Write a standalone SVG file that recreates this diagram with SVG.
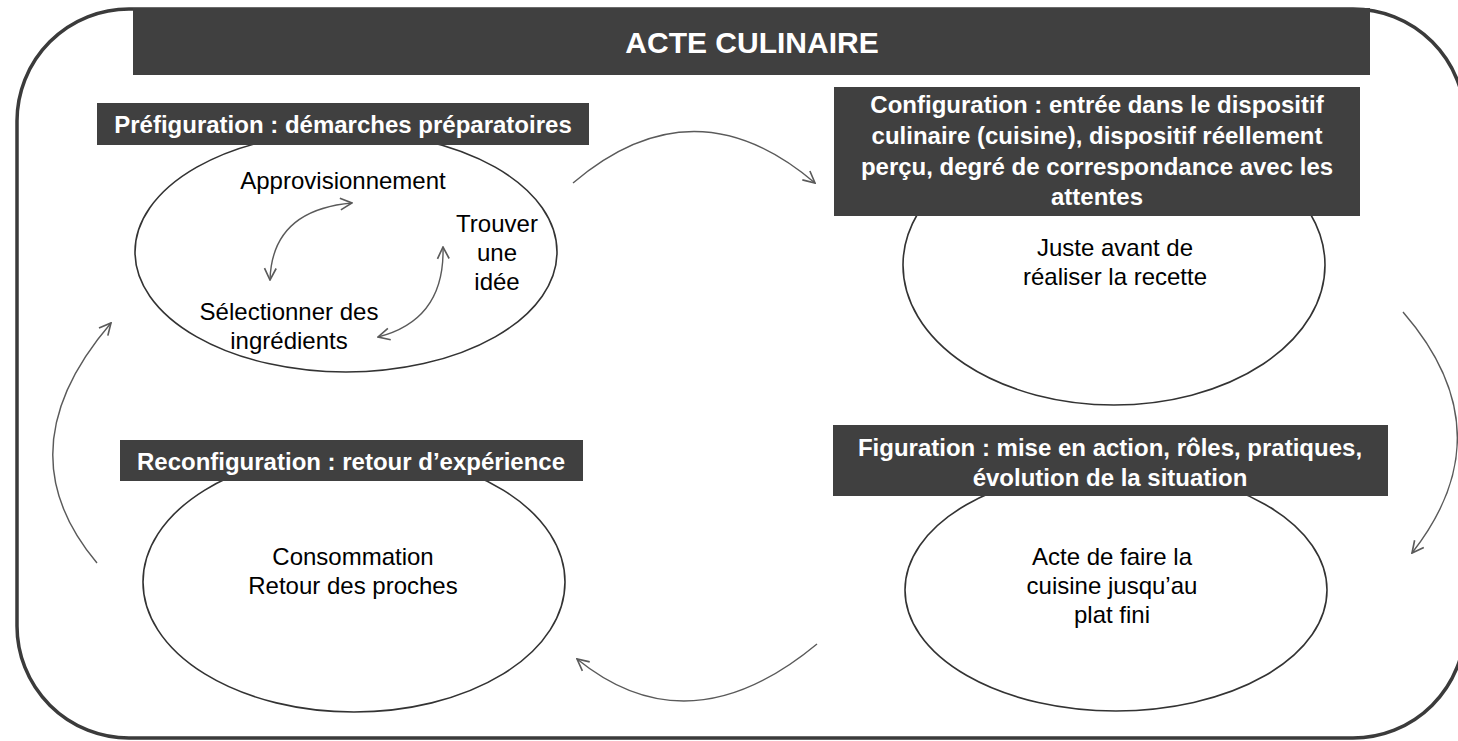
<svg xmlns="http://www.w3.org/2000/svg" width="1458" height="741" viewBox="0 0 1458 741">
<style>
.bar{fill:#404040}
.ttl{font-family:"Liberation Sans",Arial,sans-serif;font-weight:bold;fill:#ffffff;text-anchor:middle}
.lbl{font-family:"Liberation Sans",Arial,sans-serif;font-weight:bold;font-size:24px;fill:#ffffff;text-anchor:middle}
.txt{font-family:"Liberation Sans",Arial,sans-serif;font-size:24px;fill:#000000;text-anchor:middle}
.ell{fill:#ffffff;stroke:#333333;stroke-width:1.6}
.arr{fill:none;stroke:#5a5a5a;stroke-width:1.4}
</style>
<defs>
<marker id="ah" markerUnits="userSpaceOnUse" markerWidth="14" markerHeight="14" viewBox="0 0 12 12" refX="11" refY="6" orient="auto-start-reverse">
<path d="M1,1 L11,6 L1,11" fill="none" stroke="#5a5a5a" stroke-width="1.4"/>
</marker>
</defs>
<rect width="1458" height="741" fill="#ffffff"/>
<g id="frame">
<rect x="17" y="9" width="1448" height="729" rx="112" ry="112" fill="none" stroke="#3b3b3b" stroke-width="3.5"/>
</g>
<g id="title">
<rect class="bar" x="133" y="8" width="1237" height="67"/>
<text class="ttl" x="752" y="53" font-size="30">ACTE CULINAIRE</text>
</g>
<g id="prefiguration">
<ellipse class="ell" cx="346" cy="252" rx="211" ry="120"/>
<rect class="bar" x="97" y="103" width="492" height="42"/>
<text class="lbl" x="343" y="133">Préfiguration : démarches préparatoires</text>
<text class="txt" x="343" y="189">Approvisionnement</text>
<text class="txt" x="497" y="232">Trouver</text>
<text class="txt" x="497" y="261">une</text>
<text class="txt" x="497" y="290">idée</text>
<text class="txt" x="289" y="320">Sélectionner des</text>
<text class="txt" x="289" y="349">ingrédients</text>
</g>
<g id="configuration">
<ellipse class="ell" cx="1114" cy="265" rx="211" ry="140"/>
<rect class="bar" x="834" y="87" width="526" height="129"/>
<text class="lbl" x="1097" y="113">Configuration : entrée dans le dispositif</text>
<text class="lbl" x="1097" y="144">culinaire (cuisine), dispositif réellement</text>
<text class="lbl" x="1097" y="175">perçu, degré de correspondance avec les</text>
<text class="lbl" x="1097" y="205">attentes</text>
<text class="txt" x="1115" y="256">Juste avant de</text>
<text class="txt" x="1115" y="285">réaliser la recette</text>
</g>
<g id="figuration">
<ellipse class="ell" cx="1116" cy="590" rx="211" ry="121"/>
<rect class="bar" x="833" y="425" width="555" height="71"/>
<text class="lbl" x="1110" y="456">Figuration : mise en action, rôles, pratiques,</text>
<text class="lbl" x="1110" y="486">évolution de la situation</text>
<text class="txt" x="1112" y="565">Acte de faire la</text>
<text class="txt" x="1112" y="594">cuisine jusqu’au</text>
<text class="txt" x="1112" y="623">plat fini</text>
</g>
<g id="reconfiguration">
<ellipse class="ell" cx="354" cy="582" rx="211" ry="130"/>
<rect class="bar" x="120" y="440" width="463" height="41"/>
<text class="lbl" x="351" y="470">Reconfiguration : retour d’expérience</text>
<text class="txt" x="353" y="565">Consommation</text>
<text class="txt" x="353" y="594">Retour des proches</text>
</g>
<g id="connectors">
<path class="arr" d="M573,183 Q694,80 815,183" marker-end="url(#ah)"/>
<path class="arr" d="M1403,312 Q1507,432 1412,553" marker-end="url(#ah)"/>
<path class="arr" d="M817,644 Q689,750 577,659" marker-end="url(#ah)"/>
<path class="arr" d="M97,563 Q2,450 111,323" marker-end="url(#ah)"/>
<path class="arr" d="M352,203 Q272,210 270,280" marker-start="url(#ah)" marker-end="url(#ah)"/>
<path class="arr" d="M443,247 Q445,320 378,337" marker-start="url(#ah)" marker-end="url(#ah)"/>
</g>
</svg>
